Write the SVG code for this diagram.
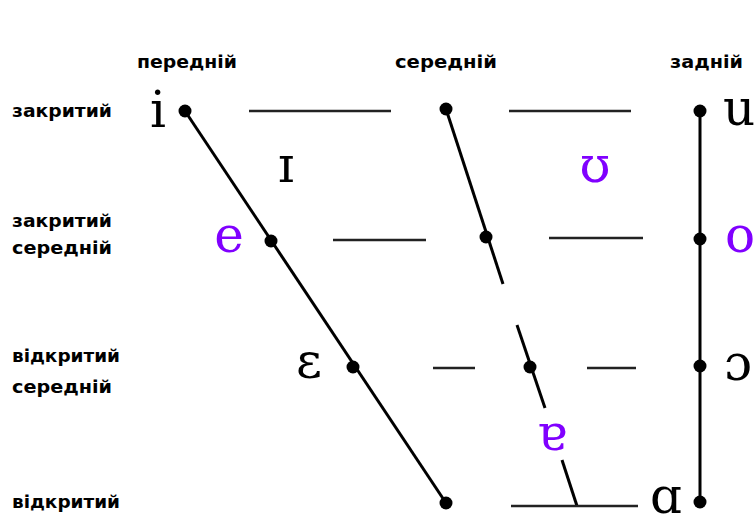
<svg xmlns="http://www.w3.org/2000/svg" width="754" height="524" viewBox="0 0 754 524">
<style>
.lbl{font-family:"DejaVu Sans","Liberation Sans",sans-serif;font-weight:bold;font-size:18px;fill:#000}
.ipa{font-family:"DejaVu Serif",serif;font-size:50px;fill:#000;text-anchor:middle}
.pur{fill:#8000ff}
.ax{stroke:#000;stroke-width:3;fill:none}
.hl{stroke:#222;stroke-width:2.5;fill:none}
.dot{fill:#000}
</style>
<rect width="754" height="524" fill="#fff"/>
<g id="labels">
<text class="lbl" x="137" y="68" textLength="100" lengthAdjust="spacingAndGlyphs">передній</text>
<text class="lbl" x="395" y="68" textLength="102" lengthAdjust="spacingAndGlyphs">середній</text>
<text class="lbl" x="670" y="68" textLength="73" lengthAdjust="spacingAndGlyphs">задній</text>
<text class="lbl" x="12" y="117" textLength="100" lengthAdjust="spacingAndGlyphs">закритий</text>
<text class="lbl" x="12" y="227" textLength="100" lengthAdjust="spacingAndGlyphs">закритий</text>
<text class="lbl" x="12" y="254" textLength="100" lengthAdjust="spacingAndGlyphs">середній</text>
<text class="lbl" x="12" y="362" textLength="108" lengthAdjust="spacingAndGlyphs">відкритий</text>
<text class="lbl" x="12" y="393" textLength="100" lengthAdjust="spacingAndGlyphs">середній</text>
<text class="lbl" x="12" y="508" textLength="108" lengthAdjust="spacingAndGlyphs">відкритий</text>
</g>
<g id="connectors">
<line class="ax" x1="185" y1="111" x2="446" y2="503"/>
<line class="ax" x1="446" y1="109" x2="503" y2="284"/>
<line class="ax" x1="517" y1="325" x2="545" y2="408"/>
<line class="ax" x1="562" y1="460" x2="577" y2="506"/>
<line class="ax" x1="700" y1="111" x2="700" y2="502"/>
<line class="hl" x1="249" y1="111" x2="391" y2="111"/>
<line class="hl" x1="509" y1="111" x2="631" y2="111"/>
<line class="hl" x1="333" y1="240" x2="426" y2="240"/>
<line class="hl" x1="549" y1="238" x2="643" y2="238"/>
<line class="hl" x1="433" y1="368" x2="475" y2="368"/>
<line class="hl" x1="587" y1="368" x2="636" y2="368"/>
<line class="hl" x1="511" y1="506" x2="638" y2="506"/>
</g>
<g id="dots">
<circle class="dot" cx="185" cy="111" r="6.5"/>
<circle class="dot" cx="271" cy="241" r="6.5"/>
<circle class="dot" cx="353" cy="367" r="6.5"/>
<circle class="dot" cx="446" cy="503" r="6.5"/>
<circle class="dot" cx="446" cy="109" r="6.5"/>
<circle class="dot" cx="486" cy="237" r="6.5"/>
<circle class="dot" cx="530" cy="367" r="6.5"/>
<circle class="dot" cx="700" cy="111" r="6.5"/>
<circle class="dot" cx="700" cy="239" r="6.5"/>
<circle class="dot" cx="700" cy="366" r="6.5"/>
<circle class="dot" cx="700" cy="502" r="6.5"/>
</g>
<g id="vowels">
<text class="ipa" x="158" y="127">i</text>
<text class="ipa" x="286" y="182">ɪ</text>
<text class="ipa pur" x="229" y="252">e</text>
<text class="ipa" x="309" y="378">ɛ</text>
<text class="ipa pur" x="595" y="182">ʊ</text>
<text class="ipa" x="739" y="125">u</text>
<text class="ipa pur" x="740" y="252">o</text>
<text class="ipa" x="738" y="380">ɔ</text>
<text class="ipa" x="666" y="513">ɑ</text>
<text class="ipa pur" x="552" y="450">ɐ</text>
</g>
</svg>
